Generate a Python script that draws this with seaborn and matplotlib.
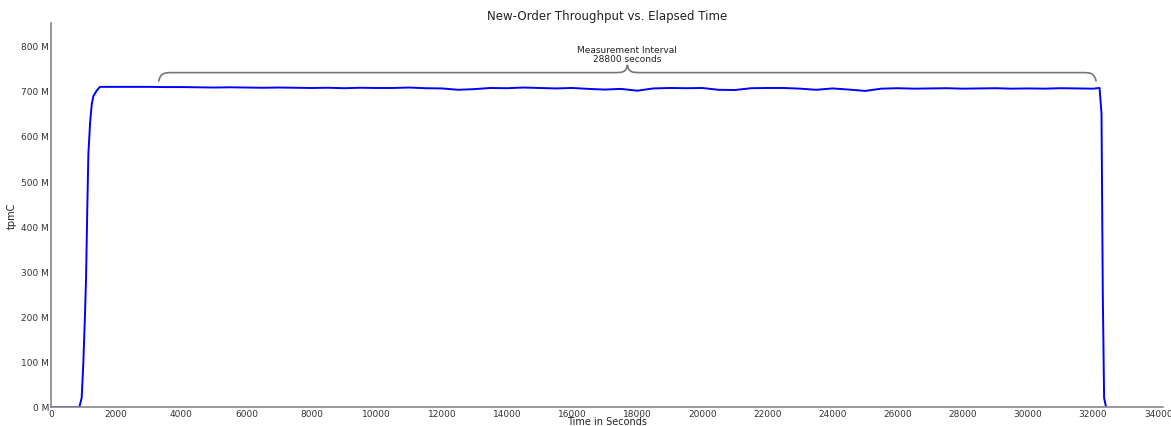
import numpy as np
import pandas as pd
import matplotlib
matplotlib.use("Agg")
import matplotlib.pyplot as plt
from matplotlib.path import Path
from matplotlib.patches import PathPatch
import seaborn as sns

# ---- data (seconds, tpmC in millions) ----
time_s = [0, 500, 870, 940, 990, 1040, 1075, 1110, 1146, 1200, 1250, 1300, 1400,
          1500, 2000, 2500, 3000, 3500, 4000, 4500, 5000, 5500, 6000, 6500, 7000,
          7500, 8000, 8500, 9000, 9500, 10000, 10500, 11000, 11500, 12000, 12500,
          13000, 13500, 14000, 14500, 15000, 15500, 16000, 16500, 17000, 17500,
          18000, 18500, 19000, 19500, 20000, 20500, 21000, 21500, 22000, 22500,
          23000, 23500, 24000, 24500, 25000, 25500, 26000, 26500, 27000, 27500,
          28000, 28500, 29000, 29500, 30000, 30500, 31000, 31500, 32000, 32200,
          32260, 32300, 32340, 32400]
tpmc_m = [0, 0, 0, 20, 95, 200, 285, 430, 560, 630, 670, 688, 700,
          708.5, 708.5, 708.5, 708.5, 708, 708, 707.5, 707, 707.5, 707, 706.5, 707,
          706.5, 706, 706.5, 705.5, 706.5, 706, 706, 707, 705.5, 705, 702,
          703.5, 706, 705.5, 707, 706, 705, 706, 704, 702.5, 704,
          700, 705, 706, 705.5, 706, 702, 701.5, 705.5, 706, 706,
          704.5, 702, 705, 702.5, 699.5, 704.5, 705.5, 704.5, 705, 705.5,
          704.5, 705, 705.5, 704.5, 705, 704.5, 705.5, 705, 704.5, 706,
          650, 250, 20, 0]
measure_start = 3300
measure_end = 32100
measure_label = "Measurement Interval\n28800 seconds"
y_ticks_m = [0, 100, 200, 300, 400, 500, 600, 700, 800]
x_ticks = list(range(0, 34001, 2000))

df = pd.DataFrame({"time": time_s, "tpmC": np.array(tpmc_m) * 1e6})

sns.set_style("white")
plt.rcParams["font.family"] = ["DejaVu Sans"]

fig = plt.figure(figsize=(11.71, 4.27), dpi=100)
ax = fig.add_axes([0.0436, 0.0445, 0.9496, 0.8995])

sns.lineplot(data=df, x="time", y="tpmC", ax=ax, color="#0000ff", linewidth=1.4)

ax.set_xlim(0, 34150)
ax.set_ylim(0, 850e6)
ax.set_xticks(x_ticks)
ax.set_xticklabels([str(v) for v in x_ticks])
ax.set_yticks([v * 1e6 for v in y_ticks_m])
ax.set_yticklabels([f"{v} M" for v in y_ticks_m])
ax.tick_params(axis="both", direction="in", length=4, width=0.8, colors="#888888",
               labelcolor="#333333", labelsize=6.5, pad=1.5)

for s in ["top", "right"]:
    ax.spines[s].set_visible(False)
for s in ["left", "bottom"]:
    ax.spines[s].set_color("#888888")
    ax.spines[s].set_linewidth(1.2)

ax.set_xlabel("Time in Seconds", fontsize=7, color="#222222", labelpad=-1.5)
ax.set_ylabel("tpmC", fontsize=7, color="#222222")
ax.yaxis.set_label_coords(-0.031, 0.5)
ax.set_title("New-Order Throughput vs. Elapsed Time", fontsize=8.5, color="#222222", pad=3)

# curly brace over the measurement interval
mid = (measure_start + measure_end) / 2
yb, yt, yc = 740e6, 720e6, 757e6
dx = 450
verts = [
    (measure_start, yt), (measure_start + dx * 0.15, yb), (measure_start + dx * 0.4, yb), (measure_start + dx, yb),
    (mid - dx, yb), (mid - dx * 0.3, yb), (mid - dx * 0.1, yb), (mid, yc),
    (mid + dx * 0.1, yb), (mid + dx * 0.3, yb), (mid + dx, yb),
    (measure_end - dx, yb), (measure_end - dx * 0.4, yb), (measure_end - dx * 0.15, yb), (measure_end, yt),
]
codes = [Path.MOVETO, Path.CURVE4, Path.CURVE4, Path.CURVE4,
         Path.LINETO, Path.CURVE4, Path.CURVE4, Path.CURVE4,
         Path.CURVE4, Path.CURVE4, Path.CURVE4,
         Path.LINETO, Path.CURVE4, Path.CURVE4, Path.CURVE4]
ax.add_patch(PathPatch(Path(verts, codes), facecolor="none", edgecolor="#777777", lw=1.2))
ax.text(mid, 761e6, measure_label, ha="center", va="bottom", fontsize=6.5,
        color="#222222", linespacing=1.0)

fig.savefig("out.png", dpi=100)
